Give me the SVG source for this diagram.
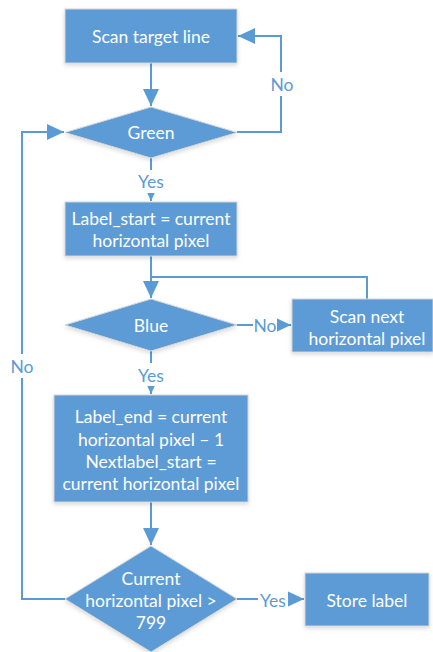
<svg xmlns="http://www.w3.org/2000/svg" width="433" height="652" viewBox="0 0 433 652">
<style>
.n{fill:#5B9BD5;stroke:#D4D4D4;stroke-width:1;filter:url(#sh)}
.t{font-family:Lato,"Liberation Sans",sans-serif;font-size:17.5px;fill:#FFFFFF;text-anchor:middle;dominant-baseline:central}
.c{fill:none;stroke:#5B9BD5;stroke-width:2}
.l{font-family:Lato,"Liberation Sans",sans-serif;font-size:17.5px;fill:#5B9BD5;text-anchor:middle;dominant-baseline:central}
.lb{fill:#FFFFFF}
</style>
<defs>
<filter id="sh" x="-10%" y="-10%" width="120%" height="130%">
<feDropShadow dx="0" dy="2" stdDeviation="2" flood-color="#000" flood-opacity="0.15"/>
</filter>
<marker id="a" markerUnits="userSpaceOnUse" markerWidth="17" markerHeight="16" refX="17" refY="8" orient="auto">
<path d="M0,0 L17,8 L0,16 z" fill="#5B9BD5"/>
</marker>
</defs>
<rect width="433" height="652" fill="#FFFFFF"/>
<g id="connectors">
<path class="c" d="M151,63 V106" marker-end="url(#a)"/>
<path class="c" d="M237,132 H281 V36 H238" marker-end="url(#a)"/>
<path class="c" d="M151,158 V201" marker-end="url(#a)"/>
<path class="c" d="M151,256 V298" marker-end="url(#a)"/>
<path class="c" d="M367,299 V277 H151"/>
<path class="c" d="M237,325 H291" marker-end="url(#a)"/>
<path class="c" d="M151,351 V394" marker-end="url(#a)"/>
<path class="c" d="M151,502 V545" marker-end="url(#a)"/>
<path class="c" d="M65,599 H22 V132 H64" marker-end="url(#a)"/>
<path class="c" d="M237,599 H304" marker-end="url(#a)"/>
<rect class="lb" x="269" y="72" width="26" height="24"/><text class="l" x="282" y="84">No</text>
<rect class="lb" x="134" y="170" width="34" height="23"/><text class="l" x="151" y="181">Yes</text>
<rect class="lb" x="253" y="314" width="24" height="22"/><text class="l" x="265" y="325">No</text>
<rect class="lb" x="134" y="363" width="34" height="23"/><text class="l" x="151" y="375">Yes</text>
<rect class="lb" x="9" y="354" width="26" height="24"/><text class="l" x="22" y="366">No</text>
<rect class="lb" x="258" y="588" width="30" height="22"/><text class="l" x="273" y="600">Yes</text>
</g>
<g id="scan-target"><rect class="n" x="65" y="9" width="172" height="54"/><text class="t" x="151" y="36">Scan target line</text></g>
<g id="green"><polygon class="n" points="151,107 237,132.5 151,158 65,132.5"/><text class="t" x="151" y="132">Green</text></g>
<g id="label-start"><rect class="n" x="65" y="202" width="172" height="54"/><text class="t" x="151" y="218">Label_start = current</text><text class="t" x="151" y="240">horizontal pixel</text></g>
<g id="blue"><polygon class="n" points="151,299 237,325 151,351 65,325"/><text class="t" x="151" y="325">Blue</text></g>
<g id="scan-next"><rect class="n" x="292" y="299" width="141" height="53"/><text class="t" x="367" y="316">Scan next</text><text class="t" x="367" y="338">horizontal pixel</text></g>
<g id="label-end"><rect class="n" x="54" y="395" width="194" height="107"/><text class="t" x="151" y="416">Label_end = current</text><text class="t" x="151" y="439">horizontal pixel – 1</text><text class="t" x="151" y="461">Nextlabel_start =</text><text class="t" x="151" y="483">current horizontal pixel</text></g>
<g id="check"><polygon class="n" points="151,546 237,599 151,652 65,599"/><text class="t" x="151" y="578">Current</text><text class="t" x="151" y="600">horizontal pixel &gt;</text><text class="t" x="151" y="622">799</text></g>
<g id="store"><rect class="n" x="305" y="573" width="124" height="53"/><text class="t" x="367" y="600">Store label</text></g>
</svg>
